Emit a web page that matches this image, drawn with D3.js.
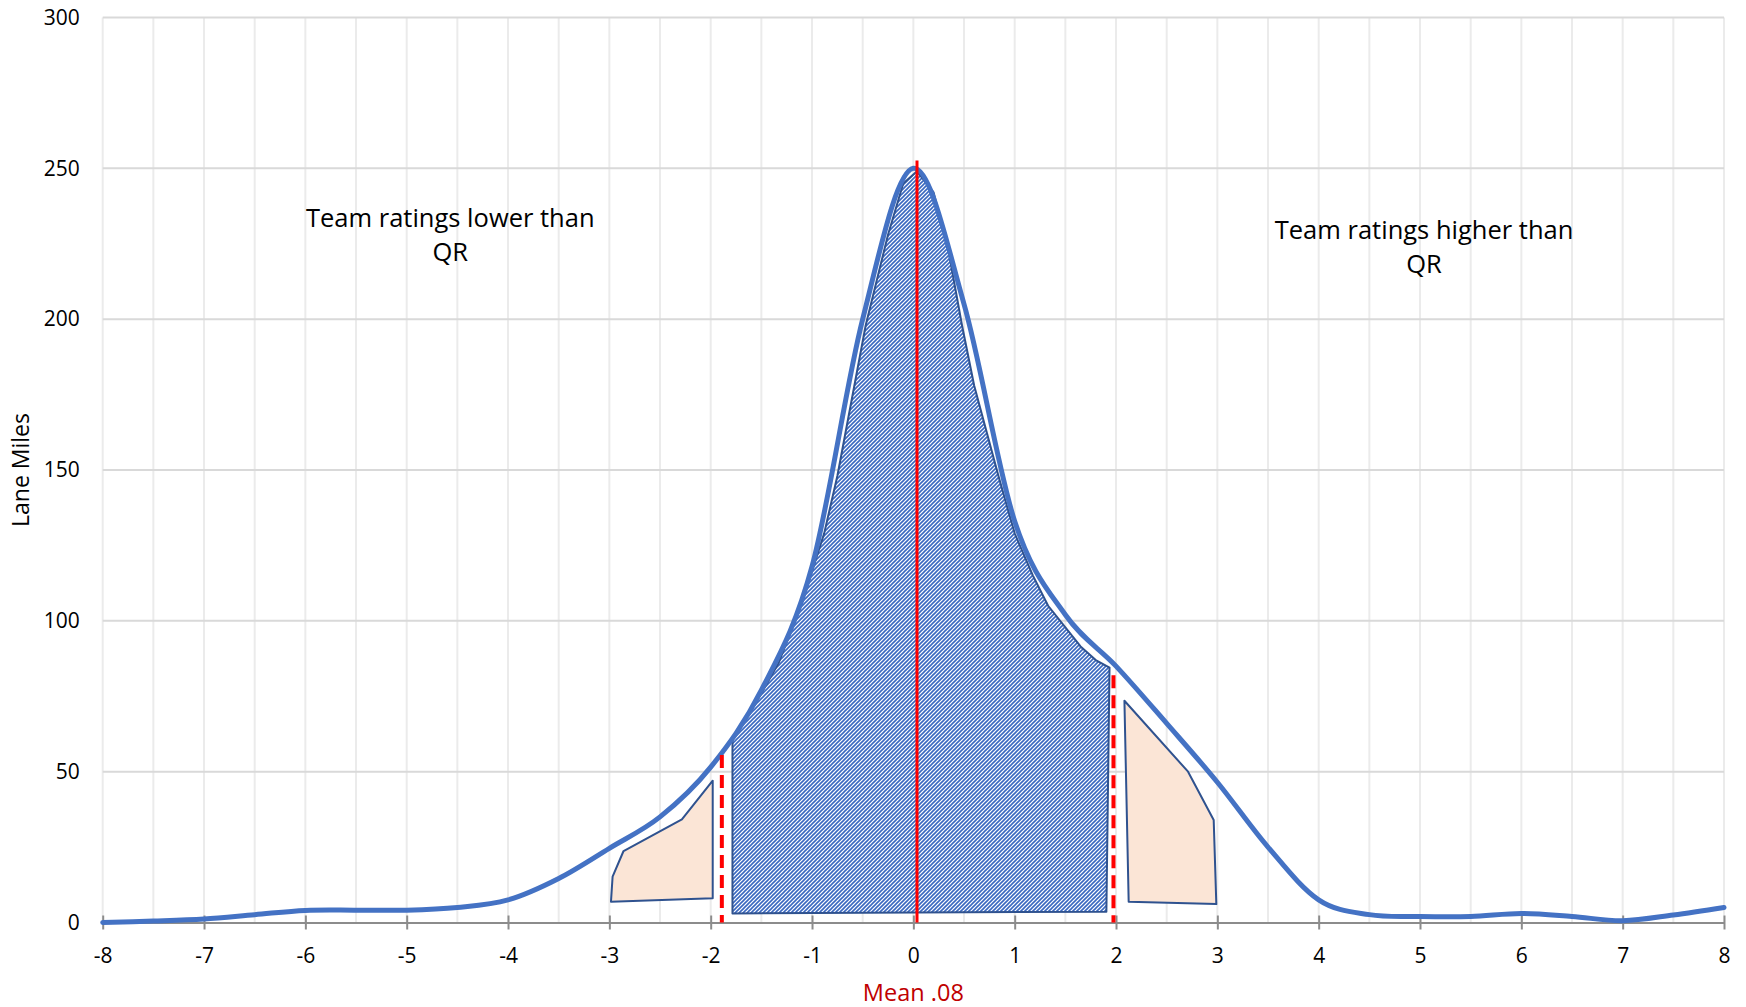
<!DOCTYPE html>
<html>
<head>
<meta charset="utf-8">
<script src="https://d3js.org/d3.v7.min.js"></script>
<style>
body { margin: 0; background: #fff; }
text { font-family: "Open Sans", sans-serif; fill: #000; }
</style>
</head>
<body>
<div id="chart"></div>
<script>
// curve, one point every half rating
var ratings = [-8, -7.5, -7, -6.5, -6, -5.5, -5, -4.5, -4, -3.5, -3, -2.5, -2, -1.5, -1, -0.5,
               0, 0.5, 1, 1.5, 2, 2.5, 3, 3.5, 4, 4.5, 5, 5.5, 6, 6.5, 7, 7.5, 8];
var laneMiles = [0, 0.5, 1.2, 2.6, 4, 4.1, 4.1, 5, 7.5, 14.6, 24.6, 35, 51.5, 77, 118, 200,
                 250, 205, 133, 102, 85, 66, 46.5, 25, 7.5, 2.6, 2, 2, 3, 2, 0.6, 2.5, 5];

var xTicks = [-8, -7, -6, -5, -4, -3, -2, -1, 0, 1, 2, 3, 4, 5, 6, 7, 8];
var yTicks = [0, 50, 100, 150, 200, 250, 300];

// hatched middle band (rating, lane miles)
var bandX = [-1.785, -1.785, -1.55, -1.33, -1.1, -0.88, -0.75, -0.47, -0.25, -0.1, 0.036,
             0.2, 0.35, 0.48, 0.6, 0.84, 1.0, 1.18, 1.33, 1.65, 1.8, 1.936, 1.905];
var bandY = [3, 61, 73, 86, 106, 129, 148, 198, 228, 245, 249,
             242, 222, 198, 178, 148, 129, 115, 105, 91.5, 87, 84.5, 3.6];

// lower and upper tails
var lowTailX = [-2.984, -2.968, -2.86, -2.284, -1.98, -1.98];
var lowTailY = [6.9, 15.2, 23.7, 34.2, 47, 8];
var highTailX = [2.083, 2.711, 2.964, 2.99, 2.125];
var highTailY = [73.5, 50, 34, 6.1, 6.9];

// mean and cut-off markers
var meanLine = { rating: 0.036, top: 252.6 };
var cutLines = [{ rating: -1.89, top: 55.5 }, { rating: 1.975, top: 82 }];

var svg = d3.select("#chart")
  .append("svg")
  .attr("width", 1746)
  .attr("height", 1007);

var x = d3.scaleLinear().domain([-8, 8]).range([102.7, 1724]);
var y = d3.scaleLinear().domain([0, 300]).range([922.5, 17.5]);

// hatch pattern for the middle band
var pat = svg.append("defs").append("pattern")
  .attr("id", "hatch")
  .attr("patternUnits", "userSpaceOnUse")
  .attr("width", 4)
  .attr("height", 4);
pat.append("rect").attr("width", 4).attr("height", 4).attr("fill", "#fff");
pat.append("path")
  .attr("d", "M-1,1 l2,-2 M0,4 l4,-4 M3,5 l2,-2")
  .attr("stroke", "#3a68c0")
  .attr("stroke-width", 1.6);

// gridlines
svg.append("g").selectAll("line").data(ratings).enter()
  .append("line")
  .attr("x1", function(d) { return x(d); })
  .attr("x2", function(d) { return x(d); })
  .attr("y1", y(300))
  .attr("y2", y(0))
  .attr("stroke", "#ebebeb")
  .attr("stroke-width", 2);

svg.append("g").selectAll("line").data(yTicks.slice(1)).enter()
  .append("line")
  .attr("x1", x(-8))
  .attr("x2", x(8))
  .attr("y1", function(d) { return y(d); })
  .attr("y2", function(d) { return y(d); })
  .attr("stroke", "#d9d9d9")
  .attr("stroke-width", 2);

// x axis with crossing ticks
var xAxis = svg.append("g")
  .attr("transform", "translate(0," + y(0) + ")")
  .call(d3.axisBottom(x).tickValues(xTicks).tickSizeOuter(0)
    .tickFormat(function(d) { return String(d); }));
xAxis.select(".domain").attr("stroke", "#8c8c8c").attr("stroke-width", 2);
xAxis.selectAll(".tick line")
  .attr("y1", -7).attr("y2", 7)
  .attr("stroke", "#8c8c8c").attr("stroke-width", 2);
xAxis.selectAll(".tick text")
  .attr("y", 40).attr("dy", 0)
  .style("font-size", "21px")
  .style("font-family", "Open Sans, sans-serif")
  .attr("fill", "#000");

// y axis labels only
var yAxis = svg.append("g")
  .attr("transform", "translate(" + x(-8) + ",0)")
  .call(d3.axisLeft(y).tickValues(yTicks).tickSize(0).tickPadding(23));
yAxis.select(".domain").remove();
yAxis.selectAll(".tick text")
  .style("font-size", "21px")
  .style("font-family", "Open Sans, sans-serif")
  .attr("fill", "#000");

var line = d3.line()
  .x(function(d) { return x(d[0]); })
  .y(function(d) { return y(d[1]); });

// shapes over the chart
svg.append("path")
  .attr("d", line(d3.zip(bandX, bandY)) + "Z")
  .attr("fill", "url(#hatch)")
  .attr("stroke", "#2f528f")
  .attr("stroke-width", 2)
  .attr("stroke-linejoin", "round");

svg.selectAll(".tail")
  .data([d3.zip(lowTailX, lowTailY), d3.zip(highTailX, highTailY)])
  .enter().append("path")
  .attr("class", "tail")
  .attr("d", function(d) { return line(d) + "Z"; })
  .attr("fill", "#fbe5d6")
  .attr("stroke", "#2f528f")
  .attr("stroke-width", 2)
  .attr("stroke-linejoin", "round");

// the smoothed distribution curve
svg.append("path")
  .attr("d", d3.line()
    .curve(d3.curveCardinal)
    .x(function(d) { return x(d[0]); })
    .y(function(d) { return y(d[1]); })(d3.zip(ratings, laneMiles)))
  .attr("fill", "none")
  .attr("stroke", "#4472c4")
  .attr("stroke-width", 5)
  .attr("stroke-linecap", "round");

// mean and cut-offs
svg.append("line")
  .attr("x1", x(meanLine.rating)).attr("x2", x(meanLine.rating))
  .attr("y1", y(meanLine.top)).attr("y2", y(0))
  .attr("stroke", "#ff0000")
  .attr("stroke-width", 3);

svg.selectAll(".cut").data(cutLines).enter()
  .append("line")
  .attr("class", "cut")
  .attr("x1", function(d) { return x(d.rating); })
  .attr("x2", function(d) { return x(d.rating); })
  .attr("y1", function(d) { return y(d.top); })
  .attr("y2", y(0))
  .attr("stroke", "#ff0000")
  .attr("stroke-width", 4)
  .attr("stroke-dasharray", "13,7");

// labels
svg.append("text")
  .attr("transform", "translate(29,470) rotate(-90)")
  .style("text-anchor", "middle")
  .style("font-size", "23px")
  .text("Lane Miles");

svg.append("text")
  .attr("x", x(0))
  .attr("y", 1001)
  .style("text-anchor", "middle")
  .style("font-size", "23.5px")
  .style("fill", "#c00000")
  .text("Mean .08");

var notes = [
  { rating: -4.57, miles: 230.7, lines: ["Team ratings lower than", "QR"] },
  { rating: 5.04, miles: 226.6, lines: ["Team ratings higher than", "QR"] }
];
notes.forEach(function(n) {
  var t = svg.append("text")
    .attr("x", x(n.rating))
    .attr("y", y(n.miles))
    .style("text-anchor", "middle")
    .style("font-size", "25.5px");
  n.lines.forEach(function(s, i) {
    t.append("tspan")
      .attr("x", x(n.rating))
      .attr("dy", i === 0 ? 0 : 34)
      .text(s);
  });
});
</script>
</body>
</html>
